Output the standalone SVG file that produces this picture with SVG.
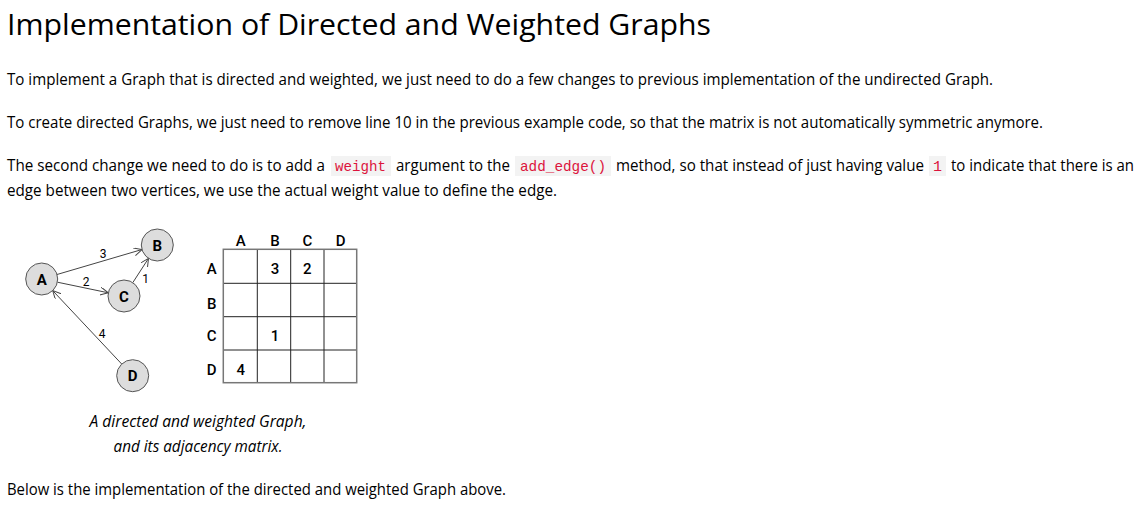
<svg xmlns="http://www.w3.org/2000/svg" width="1139" height="506" viewBox="0 0 1139 506">
<style>
.t{font-family:"Open Sans","Noto Sans","Liberation Sans",sans-serif;font-size:16px;fill:#000}
.h{font-family:"Open Sans","Noto Sans","Liberation Sans",sans-serif;font-size:30px;fill:#000}
.cap{font-family:"Open Sans","Noto Sans","Liberation Sans",sans-serif;font-size:16px;font-style:italic;fill:#000;text-anchor:middle}
.code{font-family:"Liberation Mono","DejaVu Sans Mono",monospace;font-size:15px;fill:#dc143c}
.cbg{fill:#f3f3f3}
.node circle{fill:#ddd;stroke:#555;stroke-width:1}
.nl{font-family:Roboto,"Liberation Sans",sans-serif;font-size:15px;font-weight:bold;fill:#000;text-anchor:middle}
.el{font-family:Roboto,"Liberation Sans",sans-serif;font-size:12px;fill:#000;text-anchor:middle}
.edge{stroke:#444;stroke-width:1;fill:none;marker-end:url(#arr)}
.ml{font-family:Roboto,"Liberation Sans",sans-serif;font-size:15px;font-weight:500;fill:#000;text-anchor:middle}
.grid{stroke:#222;stroke-width:1;fill:none}
</style>
<defs>
<marker id="arr" markerUnits="userSpaceOnUse" markerWidth="10" markerHeight="10" refX="8" refY="4" orient="auto">
<path d="M0,0 L8,4 L0,8" fill="none" stroke="#444" stroke-width="1"/>
</marker>
</defs>
<rect width="1139" height="506" fill="#fff"/>
<text class="h" x="7" y="35" textLength="704" lengthAdjust="spacingAndGlyphs">Implementation of Directed and Weighted Graphs</text>
<text class="t" x="7" y="85" textLength="986" lengthAdjust="spacingAndGlyphs">To implement a Graph that is directed and weighted, we just need to do a few changes to previous implementation of the undirected Graph.</text>
<text class="t" x="7" y="128" textLength="1036" lengthAdjust="spacingAndGlyphs">To create directed Graphs, we just need to remove line 10 in the previous example code, so that the matrix is not automatically symmetric anymore.</text>
<g id="para3">
<text class="t" x="7" y="171" textLength="318" lengthAdjust="spacingAndGlyphs">The second change we need to do is to add a</text>
<rect class="cbg" x="331" y="156" width="60" height="20"/>
<text class="code" x="335" y="171" textLength="51" lengthAdjust="spacingAndGlyphs">weight</text>
<text class="t" x="396" y="171" textLength="114" lengthAdjust="spacingAndGlyphs">argument to the</text>
<rect class="cbg" x="515" y="156" width="96" height="20"/>
<text class="code" x="520" y="171" textLength="86" lengthAdjust="spacingAndGlyphs">add_edge()</text>
<text class="t" x="616" y="171" textLength="308" lengthAdjust="spacingAndGlyphs">method, so that instead of just having value</text>
<rect class="cbg" x="929" y="156" width="17" height="20"/>
<text class="code" x="937.5" y="171" text-anchor="middle">1</text>
<text class="t" x="951" y="171" textLength="183" lengthAdjust="spacingAndGlyphs">to indicate that there is an</text>
<text class="t" x="7" y="196" textLength="550" lengthAdjust="spacingAndGlyphs">edge between two vertices, we use the actual weight value to define the edge.</text>
</g>
<g id="connectors">
<line class="edge" x1="57" y1="274.5" x2="142" y2="249.5"/>
<line class="edge" x1="57.4" y1="282.2" x2="108.3" y2="292.8"/>
<line class="edge" x1="132.8" y1="282.6" x2="148.5" y2="258.4"/>
<line class="edge" x1="121.7" y1="364" x2="52.7" y2="290.6"/>
<text class="el" x="103" y="257.5">3</text>
<text class="el" x="86" y="286">2</text>
<text class="el" x="145.5" y="282.5">1</text>
<text class="el" x="102" y="337.5">4</text>
</g>
<g id="nodeA" class="node"><circle cx="41.7" cy="279" r="16"/><text class="nl" x="41.7" y="284.5">A</text></g>
<g id="nodeB" class="node"><circle cx="157.3" cy="245" r="16"/><text class="nl" x="157.3" y="250.5">B</text></g>
<g id="nodeC" class="node"><circle cx="124" cy="296" r="16"/><text class="nl" x="124" y="301.5">C</text></g>
<g id="nodeD" class="node"><circle cx="132.7" cy="375.7" r="16"/><text class="nl" x="132.7" y="381">D</text></g>
<g id="matrix">
<path class="grid" d="M257.3,249.3V382.7M290.7,249.3V382.7M324,249.3V382.7M223.3,283.3H356.7M223.3,316.7H356.7M223.3,350H356.7"/>
<rect x="223.3" y="249.3" width="133.4" height="133.4" fill="none" stroke="#777" stroke-width="1.5"/>
<text class="ml" x="240.7" y="245.5">A</text>
<text class="ml" x="275" y="245.5">B</text>
<text class="ml" x="307.3" y="245.5">C</text>
<text class="ml" x="340.7" y="245.5">D</text>
<text class="ml" x="211.7" y="273.5">A</text>
<text class="ml" x="211.7" y="308.5">B</text>
<text class="ml" x="211.7" y="340.5">C</text>
<text class="ml" x="211.7" y="375">D</text>
<text class="ml" x="275" y="273.5">3</text>
<text class="ml" x="307.3" y="273.5">2</text>
<text class="ml" x="275" y="340.5">1</text>
<text class="ml" x="240.7" y="375">4</text>
</g>
<text class="cap" x="198" y="427" textLength="217" lengthAdjust="spacingAndGlyphs">A directed and weighted Graph,</text>
<text class="cap" x="198" y="452" textLength="169" lengthAdjust="spacingAndGlyphs">and its adjacency matrix.</text>
<text class="t" x="7" y="495" textLength="499" lengthAdjust="spacingAndGlyphs">Below is the implementation of the directed and weighted Graph above.</text>
</svg>
